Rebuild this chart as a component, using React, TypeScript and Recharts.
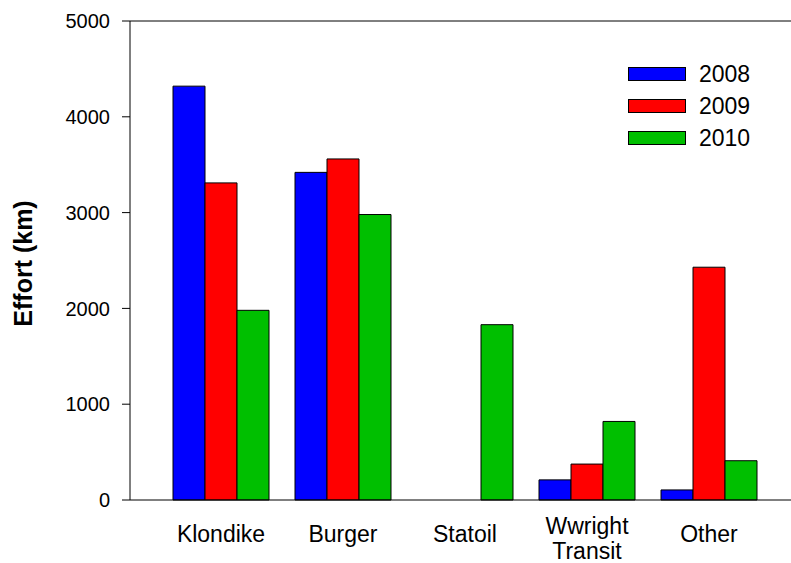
import { Bar, BarChart, Label, ReferenceLine, XAxis, YAxis } from "recharts";

const categories = ["Klondike", "Burger", "Statoil", "Wwright Transit", "Other"];
const effort2008 = [4320, 3420, 0, 210, 105];
const effort2009 = [3310, 3560, 0, 375, 2430];
const effort2010 = [1980, 2980, 1830, 820, 410];
const yTicks = [0, 1000, 2000, 3000, 4000, 5000];

const SERIES = [
  { key: "y2008", name: "2008", color: "#0000ff" },
  { key: "y2009", name: "2009", color: "#ff0000" },
  { key: "y2010", name: "2010", color: "#00bf00" },
];

const FONT = "'Liberation Sans', Arial, sans-serif";
const AXIS_Y = 500;

const data = categories.map((name, i) => ({
  name,
  y2008: effort2008[i],
  y2009: effort2009[i],
  y2010: effort2010[i],
}));

function CategoryTick(props: any) {
  const { x, payload } = props;
  const lines = String(payload.value).split(" ");
  if (lines.length === 1) {
    return (
      <text x={x} y={AXIS_Y + 42} textAnchor="middle" fontSize={23} fill="#000" fontFamily={FONT}>
        {lines[0]}
      </text>
    );
  }
  return (
    <text x={x} y={AXIS_Y + 34} textAnchor="middle" fontSize={23} fill="#000" fontFamily={FONT}>
      {lines.map((l, i) => (
        <tspan key={l} x={x} dy={i === 0 ? 0 : 25}>
          {l}
        </tspan>
      ))}
    </text>
  );
}

// legend drawn as an overlay so it doesn't eat into the plot area
function YearLegend() {
  return (
    <div style={{ position: "absolute", left: 628, top: 58, fontFamily: FONT }}>
      {SERIES.map((s) => (
        <div key={s.key} style={{ display: "flex", alignItems: "center", height: 32 }}>
          <div
            style={{
              width: 56,
              height: 12,
              background: s.color,
              border: "1px solid #000",
              marginRight: 13,
            }}
          />
          <span style={{ fontSize: 23, color: "#000" }}>{s.name}</span>
        </div>
      ))}
    </div>
  );
}

export default function App() {
  return (
    <div style={{ position: "absolute", left: 0, top: 0, width: 791, height: 563, background: "#fff" }}>
      <BarChart
        width={791}
        height={563}
        data={data}
        margin={{ top: 21, right: 0, bottom: 0, left: 0 }}
        barCategoryGap={13}
        barGap={0}
      >
        <XAxis
          dataKey="name"
          height={63}
          tickLine={false}
          axisLine={{ stroke: "#000" }}
          padding={{ left: 30, right: 21 }}
          tick={<CategoryTick />}
          interval={0}
        />
        <YAxis
          width={130}
          domain={[0, 5000]}
          ticks={yTicks}
          tickSize={8}
          tickMargin={12}
          axisLine={{ stroke: "#000" }}
          tickLine={{ stroke: "#000" }}
          tick={{ fontSize: 20, fill: "#000", fontFamily: FONT }}
        >
          <Label
            value="Effort (km)"
            angle={-90}
            position="center"
            dx={-42}
            dy={3}
            style={{ fontSize: 25, fontWeight: "bold", fill: "#000", fontFamily: FONT }}
          />
        </YAxis>
        <ReferenceLine y={5000} stroke="#000" />
        {SERIES.map((s) => (
          <Bar
            key={s.key}
            dataKey={s.key}
            name={s.name}
            fill={s.color}
            stroke="#000"
            strokeWidth={1}
            isAnimationActive={false}
          />
        ))}
      </BarChart>
      <YearLegend />
    </div>
  );
}
